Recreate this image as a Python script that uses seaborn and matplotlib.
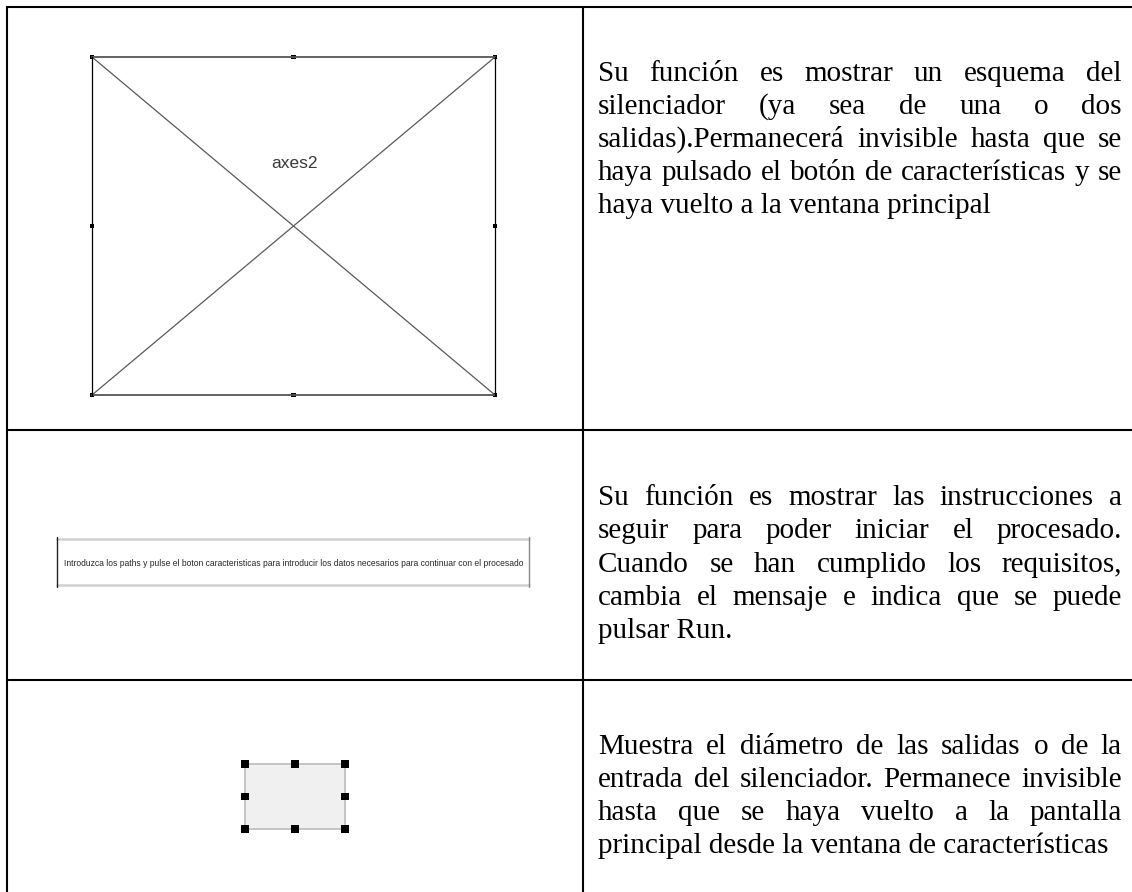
import numpy as np
import pandas as pd
import matplotlib
matplotlib.use("Agg")
import matplotlib.pyplot as plt
import seaborn as sns
from matplotlib.patches import Rectangle

# ---------------- content ----------------
row1_lines = [
    "Su función es mostrar un esquema del",
    "silenciador (ya sea de una o dos",
    "salidas).Permanecerá invisible hasta que se",
    "haya pulsado el botón de características y se",
    "haya vuelto a la ventana principal",
]
row2_lines = [
    "Su función es mostrar las instrucciones a",
    "seguir para poder iniciar el procesado.",
    "Cuando se han cumplido los requisitos,",
    "cambia el mensaje e indica que se puede",
    "pulsar Run.",
]
row3_lines = [
    "Muestra el diámetro de las salidas o de la",
    "entrada del silenciador. Permanece invisible",
    "hasta que se haya vuelto a la pantalla",
    "principal desde la ventana de características",
]
axes_label = "axes2"
status_text = ("Introduzca los paths y pulse el boton caracteristicas para introducir "
               "los datos necesarios para continuar con el procesado")

# ---------------- figure ----------------
W, H = 1132, 892
sns.set_theme(style="white")
plt.rcParams['font.family'] = ['Liberation Serif', 'DejaVu Serif']

fig = plt.figure(figsize=(W / 100, H / 100), dpi=100)
ax = fig.add_axes([0, 0, 1, 1])

# table grid
grid_lw = 1.5
ax.plot([6, W], [7, 7], color="black", lw=grid_lw, solid_capstyle="butt")
ax.plot([7, 7], [6, H], color="black", lw=grid_lw, solid_capstyle="butt")
ax.plot([582.5, 582.5], [6, H], color="black", lw=grid_lw, solid_capstyle="butt")
for yy in (430, 680):
    ax.plot([6, W], [yy, yy], color="black", lw=grid_lw, solid_capstyle="butt")

# ---- cell 1: axes placeholder with X ----
x0, y0, x1, y1 = 92, 57, 495, 395
diag = pd.DataFrame({"x": [x0, x1, x0, x1], "y": [y0, y1, y1, y0], "d": ["a", "a", "b", "b"]})
sns.lineplot(data=diag, x="x", y="y", units="d", estimator=None, ax=ax,
             color="#5a5a5a", lw=0.9, legend=False)
ax.plot([x0, x1], [y0, y0], color="#555555", lw=1.3)
ax.plot([x0, x1], [y1, y1], color="#555555", lw=1.3)
ax.plot([x0, x0], [y0, y1], color="black", lw=0.9)
ax.plot([x1, x1], [y0, y1], color="black", lw=0.9)
xm, ym = (x0 + x1) / 2, (y0 + y1) / 2
h1 = pd.DataFrame({"x": [x0, xm, x1, x0, x1, x0, xm, x1],
                   "y": [y0, y0, y0, ym, ym, y1, y1, y1]})
sns.scatterplot(data=h1, x="x", y="y", marker="s", s=10, color="black",
                edgecolor="none", ax=ax, legend=False)
ax.text(294, 163, axes_label, family=["Liberation Sans", "DejaVu Sans"],
        fontsize=12.5, color="#3a3a3a", ha="center", va="center")

# ---- cell 2: status text box ----
bx0, by0, bx1, by1 = 57, 539, 529, 585
ax.plot([bx0, bx1], [by0, by0], color="#d0d0d0", lw=1.8)
ax.plot([bx0, bx1], [by1, by1], color="#d0d0d0", lw=1.8)
ax.plot([bx0, bx0], [by0 - 2, by1 + 2], color="#222222", lw=1.0)
ax.plot([bx1, bx1], [by0 - 2, by1 + 2], color="#888888", lw=1.0)

# ---- cell 3: small gray edit box ----
rx0, ry0, rx1, ry1 = 245, 764, 345, 829
ax.add_patch(Rectangle((rx0, ry0), rx1 - rx0, ry1 - ry0, facecolor="#f0f0f0",
                       edgecolor="#c4c4c4", lw=1.4))
rxm, rym = (rx0 + rx1) / 2, (ry0 + ry1) / 2
h3 = pd.DataFrame({"x": [rx0, rxm, rx1, rx0, rx1, rx0, rxm, rx1],
                   "y": [ry0, ry0, ry0, rym, rym, ry1, ry1, ry1]})
sns.scatterplot(data=h3, x="x", y="y", marker="s", s=26, color="black",
                edgecolor="none", ax=ax, legend=False)

ax.set_xlim(0, W)
ax.set_ylim(H, 0)
ax.axis("off")

fig.canvas.draw()
renderer = fig.canvas.get_renderer()

# status text sized to fill the box width
st = ax.text(294, 563, status_text, family=["Liberation Sans", "DejaVu Sans"],
             fontsize=6, color="#262626", ha="center", va="center")
w = st.get_window_extent(renderer).width
st.set_fontsize(6 * 466 / w)

# ---- right column justified paragraphs ----
TX0, TX1 = 598, 1122
FS = 21


def width_of(s):
    t = ax.text(0, 0, s, fontsize=FS)
    wd = t.get_window_extent(renderer).width
    t.remove()
    return wd


def paragraph(lines, baselines):
    for i, (line, yb) in enumerate(zip(lines, baselines)):
        last = i == len(lines) - 1
        words = line.split(" ")
        if last or len(words) == 1:
            ax.text(TX0, yb, line, fontsize=FS, color="black", ha="left", va="baseline")
            continue
        ws = [width_of(wd) for wd in words]
        gap = (TX1 - TX0 - sum(ws)) / (len(words) - 1)
        x = TX0
        for wd, wdw in zip(words, ws):
            ax.text(x, yb, wd, fontsize=FS, color="black", ha="left", va="baseline")
            x += wdw + gap


paragraph(row1_lines, [81, 114, 147, 180, 213])
paragraph(row2_lines, [505, 538, 572, 605, 638])
paragraph(row3_lines, [754, 787, 820, 853])

fig.savefig("out.png", dpi=100, facecolor="white")
